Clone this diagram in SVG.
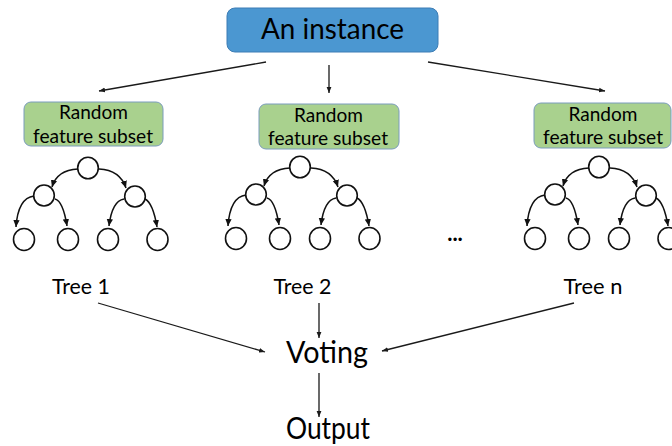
<svg xmlns="http://www.w3.org/2000/svg" xmlns:xlink="http://www.w3.org/1999/xlink" width="672" height="446" viewBox="0 0 672 446">
<style>
text{font-family:Lato,"Open Sans","Liberation Sans",sans-serif;fill:#000}
.lbl{text-anchor:middle}
.box-blue{fill:#4b97d1;stroke:#3d7db5;stroke-width:1}
.box-green{fill:#a9d18e;stroke:#7b9cbc;stroke-width:1}
.conn{stroke:#1a1a1a;stroke-width:1.3;fill:none;marker-end:url(#ah)}
.node{fill:#fff;stroke:#111;stroke-width:1.6}
.edge{stroke:#111;stroke-width:1.5;fill:none;marker-end:url(#th)}
</style>
<defs>
<marker id="ah" viewBox="0 0 10 10" refX="10" refY="5" markerWidth="6" markerHeight="6" markerUnits="userSpaceOnUse" orient="auto"><path d="M0,1 L10,5 L0,9 z" fill="#1a1a1a"/></marker>
<marker id="th" viewBox="0 0 10 10" refX="10" refY="5" markerWidth="7" markerHeight="7" markerUnits="userSpaceOnUse" orient="auto"><path d="M0,0.5 L10,5 L0,9.5 z" fill="#111"/></marker>
<g id="tree">
<path class="edge" d="M-10,1 Q-31,2 -36,19"/>
<path class="edge" d="M11,1 Q32,2 38,20"/>
<path class="edge" d="M-54,28 Q-70,30 -72,59"/>
<path class="edge" d="M-33,31 Q-25,33 -21,58"/>
<path class="edge" d="M36,31 Q24,33 21,58"/>
<path class="edge" d="M57,31 Q65,35 69,59"/>
<ellipse class="node" cx="0" cy="0" rx="10.3" ry="10.8"/>
<ellipse class="node" cx="-44" cy="27.5" rx="10.3" ry="10.5"/>
<ellipse class="node" cx="47" cy="28.5" rx="10.3" ry="10.5"/>
<ellipse class="node" cx="-64" cy="71.5" rx="10.5" ry="11"/>
<ellipse class="node" cx="-20" cy="71.5" rx="10.5" ry="11"/>
<ellipse class="node" cx="20" cy="71.5" rx="10.5" ry="11"/>
<ellipse class="node" cx="69.5" cy="71.5" rx="10.5" ry="11"/>
</g>
</defs>
<rect width="672" height="446" fill="#fff"/>
<g id="connectors">
<line class="conn" x1="266" y1="62" x2="99" y2="91"/>
<line class="conn" x1="329" y1="65" x2="329" y2="93"/>
<line class="conn" x1="428" y1="62" x2="605" y2="91"/>
<line class="conn" x1="98" y1="303" x2="265" y2="352"/>
<line class="conn" x1="319" y1="303" x2="319" y2="338"/>
<line class="conn" x1="574" y1="303" x2="382" y2="351"/>
<line class="conn" x1="319" y1="373" x2="319" y2="417"/>
</g>
<g id="instance">
<rect class="box-blue" x="227" y="8" width="211" height="44" rx="8"/>
<text class="lbl" x="332.5" y="39" font-size="29" textLength="143" lengthAdjust="spacingAndGlyphs">An instance</text>
</g>
<g id="subset1">
<rect class="box-green" x="24" y="102" width="139" height="44" rx="7"/>
<text class="lbl" x="93.5" y="119" font-size="20" textLength="69" lengthAdjust="spacingAndGlyphs">Random</text>
<text class="lbl" x="93" y="143" font-size="20" textLength="120" lengthAdjust="spacingAndGlyphs">feature subset</text>
</g>
<g id="subset2">
<rect class="box-green" x="259" y="104" width="140" height="45" rx="7"/>
<text class="lbl" x="328.5" y="122" font-size="20" textLength="69" lengthAdjust="spacingAndGlyphs">Random</text>
<text class="lbl" x="328" y="145" font-size="20" textLength="120" lengthAdjust="spacingAndGlyphs">feature subset</text>
</g>
<g id="subset3">
<rect class="box-green" x="534" y="103" width="137" height="45" rx="7"/>
<text class="lbl" x="603" y="121" font-size="20" textLength="69" lengthAdjust="spacingAndGlyphs">Random</text>
<text class="lbl" x="603" y="144" font-size="20" textLength="120" lengthAdjust="spacingAndGlyphs">feature subset</text>
</g>
<g id="tree1"><use xlink:href="#tree" href="#tree" transform="translate(88,168)"/></g>
<g id="tree2"><use xlink:href="#tree" href="#tree" transform="translate(300,167)"/></g>
<g id="tree3"><use xlink:href="#tree" href="#tree" transform="translate(599,167)"/></g>
<g id="ellipsis"><text class="lbl" x="455" y="241" font-size="22" font-weight="bold">...</text></g>
<g id="label-tree1"><text class="lbl" x="81" y="294" font-size="22" textLength="58" lengthAdjust="spacingAndGlyphs">Tree 1</text></g>
<g id="label-tree2"><text class="lbl" x="302.5" y="294" font-size="22" textLength="58" lengthAdjust="spacingAndGlyphs">Tree 2</text></g>
<g id="label-treen"><text class="lbl" x="593" y="294" font-size="22" textLength="59" lengthAdjust="spacingAndGlyphs">Tree n</text></g>
<g id="voting"><text class="lbl" x="327" y="363" font-size="31" textLength="82" lengthAdjust="spacingAndGlyphs">Voting</text></g>
<g id="output"><text class="lbl" x="328" y="439" font-size="30" textLength="84" lengthAdjust="spacingAndGlyphs">Output</text></g>
</svg>
